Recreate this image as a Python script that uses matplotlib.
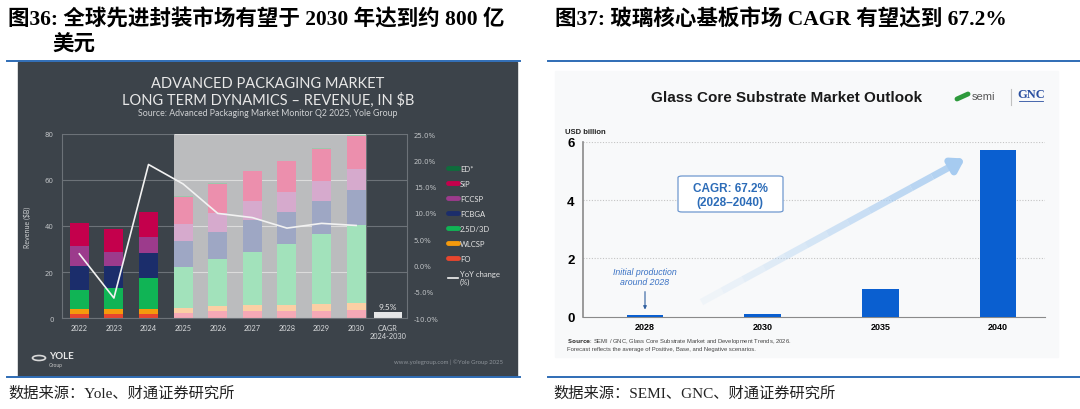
import matplotlib
matplotlib.use('Agg')
import matplotlib.pyplot as plt
import numpy as np
from matplotlib.patches import Rectangle, FancyBboxPatch, Circle
from matplotlib.lines import Line2D

# ---- data: advanced packaging market (Yole), revenue $B ----
years = ['2022', '2023', '2024', '2025', '2026', '2027', '2028', '2029', '2030']
seg_names = ['FO', 'WLCSP', '2.5D/3D', 'FCBGA', 'FCCSP', 'SiP', 'ED*']
fo = [1.9, 1.8, 1.9, 2.3, 2.9, 2.9, 3.2, 3.2, 3.5]
wlcsp = [1.9, 2.0, 2.2, 2.0, 2.2, 2.6, 2.6, 2.9, 2.9]
d25_3d = [8.2, 9.2, 13.4, 17.8, 20.5, 23.4, 26.4, 30.3, 34.2]
fcbga = [10.4, 9.7, 10.7, 11.3, 12.0, 13.5, 14.0, 14.6, 15.1]
fccsp = [8.7, 6.2, 7.0, 7.6, 8.0, 8.3, 8.7, 8.7, 9.1]
sip = [10.1, 9.6, 10.8, 11.8, 12.7, 13.0, 13.2, 13.8, 14.5]
ed = [0.2, 0.2, 0.2, 0.2, 0.2, 0.2, 0.2, 0.2, 0.2]
yoy = [2.2, -6.2, 19.2, 15.5, 9.9, 9.1, 7.1, 8.0, 7.6]
cagr_value = 9.5
cagr_label = 'CAGR\n2024-2030'

# ---- data: glass core substrate market, USD billion ----
gc_years = ['2028', '2030', '2035', '2040']
gc_values = [0.05, 0.1, 0.95, 5.7]

W, H = 1080, 410


def box(x0, y0, x1, y1):
    return [x0 / W, 1 - y1 / H, (x1 - x0) / W, (y1 - y0) / H]


def fx(x):
    return x / W


def fy(y):
    return 1 - y / H


cn_font = ['Liberation Serif', 'Noto Sans CJK SC']
sans = ['Lato', 'DejaVu Sans']

fig = plt.figure(figsize=(10.8, 4.1), dpi=100)
fig.patch.set_facecolor('white')

# ---- page titles / sources ----
fig.text(fx(8), fy(20), '图36: 全球先进封装市场有望于 2030 年达到约 800 亿',
         family=cn_font, fontsize=15.5, fontweight='bold', va='center', ha='left')
fig.text(fx(52), fy(46), '美元', family=cn_font, fontsize=15.5,
         fontweight='bold', va='center', ha='left')
fig.text(fx(555), fy(20), '图37: 玻璃核心基板市场 CAGR 有望达到 67.2%',
         family=cn_font, fontsize=15.5, fontweight='bold', va='center', ha='left')
fig.text(fx(8), fy(394), '数据来源：Yole、财通证券研究所', family=cn_font,
         fontsize=11, va='center', ha='left', color='#222222')
fig.text(fx(553), fy(394), '数据来源：SEMI、GNC、财通证券研究所', family=cn_font,
         fontsize=11, va='center', ha='left', color='#222222')
for (x0, x1) in [(7, 520), (548, 1080)]:
    for y in (62, 378):
        fig.add_artist(Line2D([fx(x0), fx(x1)], [fy(y), fy(y)],
                              color='#2f6db5', lw=1.4))

# ---- left dark panel ----
fig.add_artist(Rectangle((fx(18), fy(377)), fx(517) - fx(18), fy(63) - fy(377),
                         color='#3c434a', zorder=0))
fig.text(fx(268), fy(84), 'ADVANCED PACKAGING MARKET', family=sans,
         fontsize=10.5, color='#e8e8e8', ha='center', va='center')
fig.text(fx(268), fy(100), 'LONG TERM DYNAMICS \u2013 REVENUE, IN $B', family=sans,
         fontsize=10.5, color='#e8e8e8', ha='center', va='center')
fig.text(fx(268), fy(114), 'Source: Advanced Packaging Market Monitor Q2 2025, Yole Group',
         family=sans, fontsize=6.3, color='#d0d2d4', ha='center', va='center')

ax = fig.add_axes(box(62, 135, 407, 319))
ax.set_facecolor('none')
ax.set_xlim(-0.5, 9.47)
ax.set_ylim(0, 80)
bw = 0.55
x = np.arange(len(years))
shade0, shade1 = 3 - bw / 2, 8 + bw / 2
ax.axvspan(shade0, shade1, color='#bbbcbe', zorder=0, lw=0)
for v in [0, 20, 40, 60, 80]:
    ax.hlines(v, -0.5, shade0, color='#6c7278', lw=0.8, zorder=1)
    ax.hlines(v, shade0, shade1, color='#dcdcdc', lw=0.8, zorder=1)
    ax.hlines(v, shade1, 9.47, color='#6c7278', lw=0.8, zorder=1)
ax.axvline(shade1, color='#6c7278', lw=0.8, zorder=1)

segments = [fo, wlcsp, d25_3d, fcbga, fccsp, sip, ed]
colors = ['#e8462e', '#f59a0c', '#10b455', '#1b2d6b', '#9c3b8c', '#c4004c', '#0d6a3a']
faded = ['#f5a9b6', '#fbcfa4', '#a2e2bb', '#9ea7c4', '#d6aacd', '#ec8fad', '#9cc6ab']
bottom = np.zeros(len(years))
for vals, c, cf in zip(segments, colors, faded):
    vals = np.array(vals)
    cols = [c if i < 3 else cf for i in range(len(years))]
    ax.bar(x, vals, bw, bottom=bottom, color=cols, lw=0, zorder=2)
    bottom += vals

cagr_x = 8.92
ax.bar([cagr_x], [2.6], 0.8, color='#e6e7e8', lw=0, zorder=2)
ax.text(cagr_x, 5.0, '{:.1f}%'.format(cagr_value), color='#e8e8e8',
        fontsize=6, ha='center', va='center', family=sans)

for s in ['top', 'right']:
    ax.spines[s].set_visible(False)
ax.spines['left'].set_color('#6c7278')
ax.spines['bottom'].set_color('#6c7278')
ax.spines['left'].set_linewidth(0.8)
ax.spines['bottom'].set_linewidth(0.8)
ax.set_yticks([0, 20, 40, 60, 80])
ax.tick_params(axis='y', length=0, pad=6, labelsize=5, labelcolor='#c0c3c6')
ax.set_xticks(list(x) + [cagr_x])
ax.set_xticklabels(years + [cagr_label], fontsize=5.3, color='#d8dadc',
                   family=sans, linespacing=1.3, va='top')
ax.tick_params(axis='x', length=0, pad=4)
ax.set_ylabel('Revenue ($B)', fontsize=5, color='#d0d2d4', labelpad=10, family=sans)

ax2 = ax.twinx()
ax2.set_ylim(-10, 25)
ax2.plot(x, yoy, color='#f2f2f2', lw=1.2, zorder=5)
ax2.set_yticks(np.arange(-10, 26, 5))
ax2.set_yticklabels(['{:.1f}%'.format(v) for v in np.arange(-10, 26, 5)])
ax2.tick_params(axis='y', length=0, pad=5, labelsize=5, labelcolor='#c0c3c6')
for s in ['top', 'left', 'bottom']:
    ax2.spines[s].set_visible(False)
ax2.spines['right'].set_color('#6c7278')
ax2.spines['right'].set_linewidth(0.8)

handles = [Line2D([], [], color=c, lw=3.5, solid_capstyle='round') for c in colors[::-1]]
handles[0].set_color('#0f6b3c')
handles.append(Line2D([], [], color='#f2f2f2', lw=1.2))
labels = seg_names[::-1] + ['YoY change\n(%)']
fig.legend(handles, labels, loc='upper left', bbox_to_anchor=(fx(444), fy(162)),
           frameon=False, labelcolor='#e4e4e4', handlelength=1.3,
           handletextpad=0.3, labelspacing=1.05, borderpad=0,
           prop={'family': sans, 'size': 5.5})

# yole footer
fig.add_artist(Circle((fx(39), fy(359)), 6.5 / W, transform=fig.transFigure,
                      fill=False, ec='#d8d8d8', lw=1.2))
fig.text(fx(49), fy(357), 'YOLE', family=sans, fontsize=7, fontweight='bold',
         color='#e8e8e8', va='center', ha='left')
fig.text(fx(49), fy(366), 'Group', family=sans, fontsize=3.5,
         color='#c8c8c8', va='center', ha='left')
fig.text(fx(503), fy(362), 'www.yolegroup.com | \u00a9Yole Group 2025', family=sans,
         fontsize=4.3, color='#8c9298', va='center', ha='right')

# ---- right chart ----
fig.add_artist(Rectangle((fx(555), fy(358)), fx(1058) - fx(555), fy(72) - fy(358),
                         color='#f8f9fa', zorder=0))
fig.text(fx(787), fy(98), 'Glass Core Substrate Market Outlook', family=['Liberation Sans'],
         fontsize=11, fontweight='bold', color='#1a1a1a', ha='center', va='center')
fig.text(fx(972), fy(97), 'semi', family=['Liberation Sans'], fontsize=8,
         color='#555555', ha='left', va='center')
fig.add_artist(Line2D([fx(957), fx(968)], [fy(100), fy(95)], color='#2e9a3c', lw=3.5,
                      solid_capstyle='round'))
fig.add_artist(Line2D([fx(1011), fx(1011)], [fy(90), fy(106)], color='#c0c0c0', lw=0.8))
fig.text(fx(1031), fy(95), 'GNC', family=['Liberation Serif'], fontsize=9,
         fontweight='bold', color='#2a4fa0', ha='center', va='center')
fig.add_artist(Line2D([fx(1019), fx(1043)], [fy(102), fy(102)], color='#2a4fa0', lw=0.6))
fig.text(fx(565), fy(132), 'USD billion', family=['Liberation Sans'], fontsize=5.5,
         fontweight='bold', color='#222222', ha='left', va='center')

bx = fig.add_axes(box(583, 142.7, 1045, 317.7))
bx.set_facecolor('none')
bx.set_ylim(0, 6)
bx.set_xlim(-0.527, 3.4)
gx = np.arange(len(gc_years))
for v in [2, 4, 6]:
    bx.axhline(v, color='#c4c4c4', lw=0.8, ls=(0, (1, 1.5)), zorder=0)
bx.bar(gx, gc_values, 0.31, color='#0a5fd0', lw=0, zorder=3)
bx.set_yticks([0, 2, 4, 6])
bx.tick_params(axis='y', length=0, pad=6, labelsize=9.5)
for t in bx.get_yticklabels():
    t.set_fontweight('bold')
    t.set_family('Liberation Sans')
bx.set_xticks(gx)
bx.set_xticklabels(gc_years, fontsize=6.5, fontweight='bold', family='Liberation Sans')
bx.tick_params(axis='x', length=0, pad=4)
for s in ['top', 'right']:
    bx.spines[s].set_visible(False)
bx.spines['left'].set_color('#8a8a8a')
bx.spines['bottom'].set_color('#8a8a8a')
bx.spines['left'].set_linewidth(1.2)

# growth arrow (faded from transparent to light blue)
n_seg = 12
p0 = np.array([0.48, 0.5])
p1 = np.array([2.62, 5.2])
for i in range(n_seg):
    a = p0 + (p1 - p0) * i / n_seg
    b = p0 + (p1 - p0) * (i + 1) / n_seg
    bx.plot([a[0], b[0]], [a[1], b[1]], color='#a6cbf0', lw=5,
            alpha=0.1 + 0.8 * i / n_seg, solid_capstyle='butt', zorder=1)
bx.annotate('', xy=(2.74, 5.47), xytext=(2.6, 5.15),
            arrowprops=dict(arrowstyle='-|>,head_width=0.45,head_length=0.7',
                            color='#a6cbf0', lw=5), zorder=1)

cagr_box = FancyBboxPatch((fx(678), fy(213)), fx(783) - fx(678), fy(177) - fy(213),
                          boxstyle='round,pad=0,rounding_size=0.004',
                          transform=fig.transFigure, fc='white', ec='#6f98cf', lw=0.9)
fig.add_artist(cagr_box)
fig.text(fx(730), fy(189), 'CAGR: 67.2%', family=['Liberation Sans'], fontsize=8.5,
         fontweight='bold', color='#2c6cb8', ha='center', va='center')
fig.text(fx(730), fy(203), '(2028\u20132040)', family=['Liberation Sans'], fontsize=8.5,
         fontweight='bold', color='#2c6cb8', ha='center', va='center')

bx.annotate('Initial production\naround 2028', xy=(0, 0.15), xytext=(0, 1.05),
            ha='center', va='bottom', fontsize=6.3, style='italic',
            color='#3a72c4', family='Liberation Sans', linespacing=1.15,
            arrowprops=dict(arrowstyle='-|>,head_width=0.15,head_length=0.3',
                            color='#2f5f9f', lw=0.8))

fig.text(fx(567), fy(342), r'$\bf{Source}$: SEMI / GNC, Glass Core Substrate Market and Development Trends, 2026.',
         family=['Liberation Sans'], fontsize=4.2, color='#444444', ha='left', va='center')
fig.text(fx(567), fy(350), 'Forecast reflects the average of Positive, Base, and Negative scenarios.',
         family=['Liberation Sans'], fontsize=4.2, color='#444444', ha='left', va='center')

fig.savefig('out.png', dpi=100, facecolor='white')
